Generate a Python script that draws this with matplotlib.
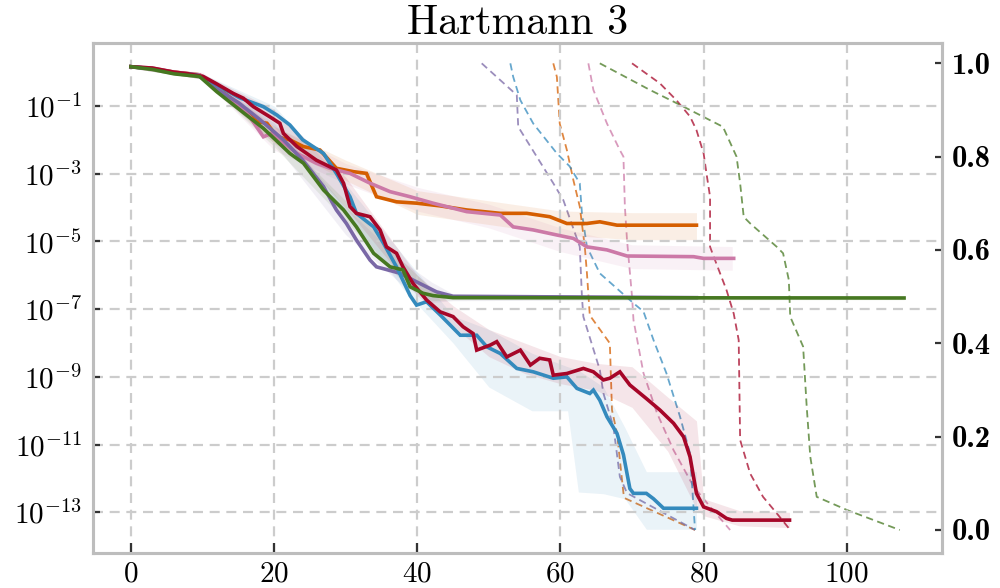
import numpy as np
import matplotlib
matplotlib.use("Agg")
import matplotlib.pyplot as plt

plt.rcParams.update({
    "font.family": "serif",
    "font.serif": ["cmr10"],
    "mathtext.fontset": "cm",
    "axes.formatter.use_mathtext": True,
    "axes.unicode_minus": False,
})

title = "Hartmann 3"

# ---------- solid lines: iteration vs log10(regret) ----------
blue_x = [0, 3, 6, 9, 11, 13, 15.2, 18.5, 20.4, 22.2, 24, 26.9, 28.7, 30.6, 31.5, 33.9, 35.3, 37.1, 39,
          39.9, 41.3, 43.2, 46, 48.3, 49.7, 51.6, 53.9, 56.2, 59, 60.9, 62.3, 64.1, 64.6, 65.5, 66.5,
          67.9, 68.8, 69.7, 70.2, 72, 73, 74.4, 79]
blue_log = [0.16, 0.10, -0.02, -0.08, -0.25, -0.5, -0.76, -1.02, -1.27, -1.56, -2.0, -2.40, -2.99, -3.68,
            -4.17, -4.57, -5.06, -5.75, -6.6, -6.88, -6.78, -7.17, -7.77, -7.77, -8.11, -8.31, -8.75,
            -8.85, -9.04, -9.0, -9.34, -9.49, -9.39, -9.69, -10.18, -10.67, -11.3, -12.3, -12.44,
            -12.44, -12.6, -12.88, -12.88]

red_x = [0, 3, 6, 8, 10.1, 12, 14.3, 15.7, 17.1, 19.4, 20.8, 21.3, 23.2, 25.9, 28.7, 29.7, 30.6, 31.5,
         33.4, 34.8, 35.7, 37.1, 38, 39.4, 41.3, 43.2, 45, 46.4, 47.8, 48.3, 50.2, 51.1, 52.5, 54.4,
         55.8, 57.1, 58.5, 59, 60.9, 63.2, 64.6, 66, 66.9, 68.3, 69.7, 72, 73.9, 75.8, 77.2, 78.1, 79,
         80, 81.8, 83.2, 84, 92]
red_log = [0.16, 0.12, 0.0, -0.05, -0.13, -0.35, -0.63, -0.77, -1.02, -1.32, -1.51, -1.81, -2.2, -2.6,
           -2.89, -3.28, -3.97, -4.17, -4.27, -4.66, -5.16, -5.35, -5.75, -6.24, -6.73, -7.08, -7.22,
           -7.52, -7.72, -8.21, -8.06, -7.96, -8.41, -8.21, -8.65, -8.45, -8.5, -8.95, -8.9, -8.75,
           -8.85, -9.09, -9.04, -8.85, -9.24, -9.64, -9.98, -10.37, -10.77, -11.36, -12.44, -12.84,
           -12.98, -13.18, -13.23, -13.23]

green_x = [0, 3, 6, 9.6, 12, 18.5, 22.2, 24.1, 26.9, 29.7, 31.5, 33.9, 36.2, 38, 39, 40.8, 42.2, 45, 108]
green_log = [0.16, 0.08, -0.05, -0.13, -0.58, -1.66, -2.40, -2.69, -3.48, -4.07, -4.57, -5.35, -5.75,
             -5.84, -6.34, -6.53, -6.6, -6.66, -6.67]

purple_x = [0, 3, 6, 9.5, 12, 15, 18, 21.3, 24, 26.9, 28.7, 30.1, 31.5, 33.4, 34.3, 37.6, 39.4, 42.7, 45, 79]
purple_log = [0.16, 0.10, -0.03, -0.10, -0.5, -0.9, -1.4, -2.0, -2.6, -3.38, -4.07, -4.47, -4.96, -5.55,
              -5.75, -5.94, -6.14, -6.49, -6.62, -6.66]

orange_x = [0, 3, 6, 9.6, 12, 15.2, 17.6, 19, 20.4, 22.2, 24.1, 26.4, 28.7, 31.1, 32.9, 34.3, 37.1, 39.9,
            43.2, 46.9, 51.6, 55.3, 58.5, 60.9, 63.7, 65.5, 67.9, 79]
orange_log = [0.16, 0.10, 0.0, -0.08, -0.45, -0.97, -1.46, -1.51, -1.91, -2.0, -2.2, -2.3, -2.84, -2.94,
              -2.99, -3.68, -3.83, -3.87, -3.95, -4.07, -4.17, -4.17, -4.27, -4.47, -4.47, -4.42, -4.52,
              -4.52]

pink_x = [0, 3, 6, 9.6, 11.5, 12.9, 14.8, 16.6, 18.5, 19.7, 20.8, 23.2, 25.9, 27.8, 30.6, 33.4, 36.2, 39,
          42.2, 46.9, 51.6, 53.4, 56.2, 59.5, 61.8, 63.7, 66.5, 69.3, 78.6, 80, 84.2]
pink_log = [0.16, 0.12, 0.0, -0.08, -0.33, -0.63, -0.92, -1.32, -1.91, -1.81, -2.0, -2.4, -2.69, -2.84,
            -2.99, -3.28, -3.53, -3.68, -3.87, -4.12, -4.22, -4.57, -4.66, -4.81, -4.91, -5.16, -5.25,
            -5.43, -5.45, -5.5, -5.5]

# ---------- shaded bands (log10 of lower / upper bound) ----------
blue_band_x = [0, 10, 20, 30, 38, 45, 50, 56, 61, 62.5, 66, 69, 72, 79]
blue_band_hi = [0.2, -0.05, -1.0, -3.3, -5.4, -7.2, -7.6, -8.3, -8.7, -8.8, -9.3, -10.5, -11.8, -11.8]
blue_band_lo = [0.12, -0.2, -1.6, -4.1, -6.4, -8.0, -9.3, -10.0, -10.0, -12.4, -12.45, -12.6, -13.5, -13.5]

red_band_x = [0, 10, 20, 30, 40, 45, 50, 55, 60, 65, 70, 75, 79, 80, 85, 92]
red_band_hi = [0.2, -0.05, -1.1, -3.1, -6.0, -6.9, -7.6, -8.0, -8.4, -8.6, -8.7, -9.6, -10.3, -12.6, -12.95, -13.0]
red_band_lo = [0.12, -0.2, -1.7, -4.0, -6.6, -7.5, -8.4, -8.9, -9.2, -9.4, -9.9, -11.2, -12.9, -13.1, -13.4, -13.45]

green_band_x = [0, 10, 20, 30, 38, 42, 45, 108]
green_band_hi = [0.2, -0.05, -1.7, -3.8, -5.6, -6.4, -6.6, -6.62]
green_band_lo = [0.12, -0.2, -2.2, -4.4, -6.2, -6.75, -6.72, -6.72]

purple_band_x = [0, 10, 20, 30, 38, 42, 45, 79]
purple_band_hi = [0.2, -0.05, -1.5, -4.0, -5.6, -6.2, -6.55, -6.6]
purple_band_lo = [0.12, -0.2, -2.1, -4.8, -6.3, -6.8, -6.75, -6.72]

orange_band_x = [0, 10, 20, 30, 40, 50, 60, 70, 79]
orange_band_hi = [0.2, -0.05, -1.6, -2.6, -3.5, -3.8, -4.1, -4.15, -4.15]
orange_band_lo = [0.12, -0.2, -2.1, -3.2, -4.2, -4.5, -4.8, -4.95, -4.95]

pink_band_x = [0, 10, 20, 30, 40, 50, 60, 70, 84]
pink_band_hi = [0.2, 0.0, -1.6, -2.7, -3.4, -3.9, -4.6, -5.1, -5.15]
pink_band_lo = [0.12, -0.2, -2.3, -3.3, -4.1, -4.6, -5.3, -5.8, -5.85]

# ---------- dashed lines on the right axis ----------
purple_cdf_x = [49, 53.9, 54.1, 59, 60.4, 62.7, 63, 63.2, 65.5, 66, 67.4, 68.3, 69.3, 78.8]
purple_cdf = [1.0, 0.932, 0.864, 0.743, 0.707, 0.607, 0.5, 0.457, 0.343, 0.293, 0.221, 0.114, 0.079, 0.0]

blue_cdf_x = [53, 53.4, 54.4, 56.2, 59.5, 61.3, 62.7, 63, 63.7, 65.5, 70.2, 71.6, 73, 74.8, 76.7, 78.1, 78.8]
blue_cdf = [1.0, 0.971, 0.921, 0.871, 0.807, 0.779, 0.743, 0.679, 0.607, 0.55, 0.486, 0.468, 0.407,
            0.336, 0.243, 0.164, 0.0]

orange_cdf_x = [59, 59.5, 59.9, 60.9, 61.8, 62.7, 63.4, 63.7, 64.1, 66.9, 67.2, 67.9, 68.8, 69, 78.8]
orange_cdf = [1.0, 0.971, 0.871, 0.814, 0.75, 0.693, 0.607, 0.55, 0.46, 0.4, 0.257, 0.207, 0.079, 0.068, 0.0]

pink_cdf_x = [63.9, 64.6, 66.5, 68.3, 68.8, 69.0, 69.3, 70.0, 70.2, 71.6, 73.5, 75.8, 78.6, 80.9, 83.7]
pink_cdf = [1.0, 0.943, 0.871, 0.814, 0.8, 0.693, 0.621, 0.5, 0.45, 0.336, 0.25, 0.171, 0.093, 0.05, 0.0]

red_cdf_x = [70, 73.9, 76.2, 78.1, 79, 80, 80.4, 80.9, 80.9, 81.4, 83.2, 84.2, 84.9, 85.1, 86.5, 88.3, 90.2, 92.1]
red_cdf = [1.0, 0.957, 0.921, 0.886, 0.857, 0.807, 0.764, 0.714, 0.607, 0.586, 0.514, 0.464, 0.407,
           0.193, 0.121, 0.071, 0.036, 0.0]

green_cdf_x = [65.5, 72.5, 76.7, 82.7, 84.6, 85.1, 85.6, 86.5, 90.2, 91.1, 91.9, 92.1, 93.9, 94.4, 94.9,
               95.8, 100, 107.4]
green_cdf = [1.0, 0.943, 0.911, 0.864, 0.8, 0.743, 0.671, 0.657, 0.607, 0.593, 0.536, 0.457, 0.393,
             0.264, 0.157, 0.071, 0.043, 0.0]

# ---------- ticks ----------
x_ticks = [0, 20, 40, 60, 80, 100]
left_tick_exps = [-1, -3, -5, -7, -9, -11, -13]
right_tick_vals = [0.0, 0.2, 0.4, 0.6, 0.8, 1.0]
right_tick_labels = ["0.0", "0.2", "0.4", "0.6", "0.8", "1.0"]

colors = {
    "blue": "#348ABD", "red": "#A60628", "purple": "#7A68A6",
    "green": "#467821", "orange": "#D55E00", "pink": "#CC79A7",
}

fig = plt.figure(figsize=(5, 2.94), dpi=200)
ax = fig.add_axes([0.093, 0.059, 0.849, 0.8674])
ax2 = ax.twinx()
ax.set_zorder(2)
ax2.set_zorder(1)
ax.patch.set_visible(False)

series = [
    ("orange", orange_x, orange_log, orange_band_x, orange_band_lo, orange_band_hi, orange_cdf_x, orange_cdf),
    ("pink", pink_x, pink_log, pink_band_x, pink_band_lo, pink_band_hi, pink_cdf_x, pink_cdf),
    ("purple", purple_x, purple_log, purple_band_x, purple_band_lo, purple_band_hi, purple_cdf_x, purple_cdf),
    ("blue", blue_x, blue_log, blue_band_x, blue_band_lo, blue_band_hi, blue_cdf_x, blue_cdf),
    ("red", red_x, red_log, red_band_x, red_band_lo, red_band_hi, red_cdf_x, red_cdf),
    ("green", green_x, green_log, green_band_x, green_band_lo, green_band_hi, green_cdf_x, green_cdf),
]

for name, xs, ls, bx, blo, bhi, cx, cv in series:
    c = colors[name]
    ax.fill_between(bx, 10.0 ** np.array(blo), 10.0 ** np.array(bhi), color=c, alpha=0.10, lw=0)
for name, xs, ls, bx, blo, bhi, cx, cv in series:
    c = colors[name]
    ax.plot(xs, 10.0 ** np.array(ls), color=c, lw=1.3, solid_joinstyle="miter")
    ax2.plot(cx, cv, color=c, lw=0.65, alpha=0.75, ls=(0, (4, 2.5)))

ax.set_yscale("log")
ax.set_xlim(-5.3, 113.3)
ax.set_ylim(10 ** -14.21, 10 ** 0.852)
ax2.set_ylim(-0.05, 1.043)

ax.set_xticks(x_ticks)
ax.set_yticks([10.0 ** e for e in left_tick_exps])
ax.set_yticklabels([r"$10^{%d}$" % e for e in left_tick_exps])
ax.yaxis.set_minor_locator(matplotlib.ticker.NullLocator())
ax2.set_yticks(right_tick_vals)
ax2.set_yticklabels(right_tick_labels, fontfamily="cmb10", fontsize=11)

ax.grid(True, which="major", ls=(0, (4.5, 3)), color="#cccccc", lw=0.8)
ax.tick_params(axis="both", direction="in", labelsize=10.5, color="#333333", width=0.8)
ax.tick_params(axis="x", length=3.5, pad=3)
ax.tick_params(axis="y", length=2.5, pad=4)
ax2.tick_params(axis="y", direction="in", color="#333333", width=0.8, length=2.5, pad=3.5)

for a in (ax, ax2):
    for s in a.spines.values():
        s.set_color("#bdbdbd")
        s.set_linewidth(1.1)

ax.set_title(title, fontsize=15, pad=3.5)

fig.savefig("out.png", dpi=200)
